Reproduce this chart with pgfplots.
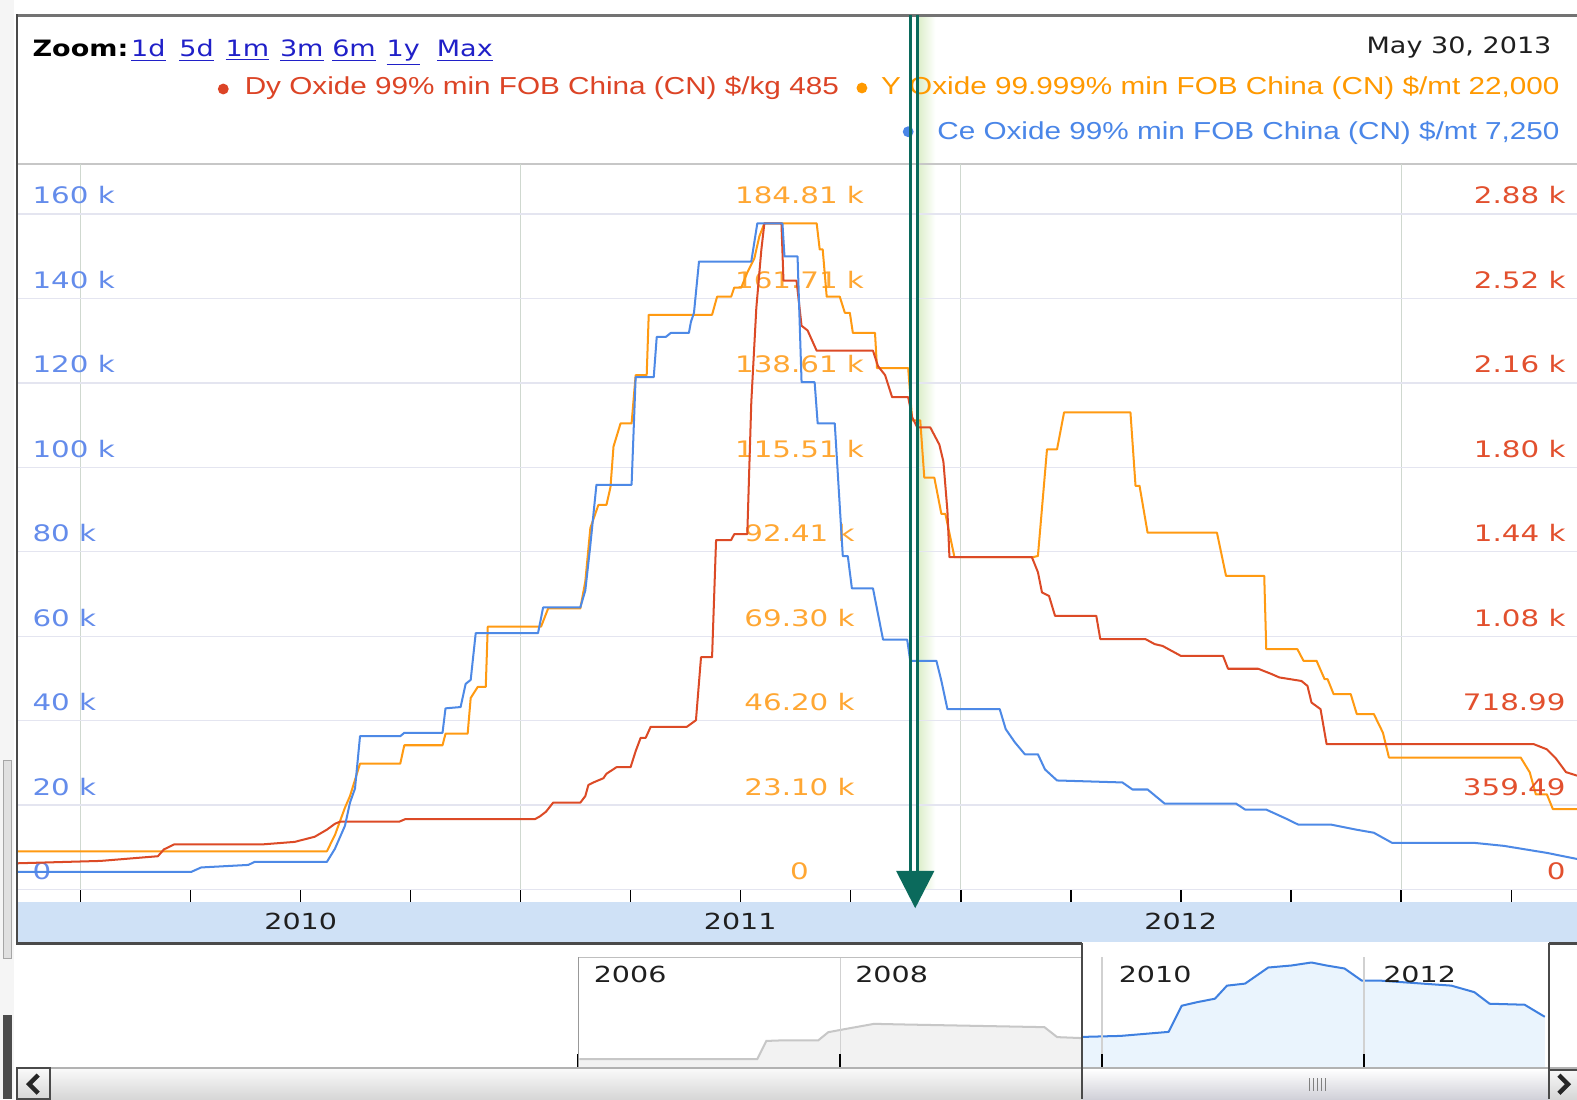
\documentclass[border=0pt]{standalone}
\usepackage{pgfplots}
\pgfplotsset{compat=1.18}
\usepackage{pgfplotstable}
\usepackage{fontspec}
\setmainfont{DejaVu Sans}
\newfontfamily\hdrfont{DejaVu Sans}[FakeStretch=1.2]
\newfontfamily\legfont{Liberation Sans}[FakeStretch=1.21]
\newfontfamily\tickfont{DejaVu Sans}[FakeStretch=1.29]

\definecolor{dyred}{HTML}{DC4A26}
\definecolor{yorange}{HTML}{FF9A12}
\definecolor{ceblue}{HTML}{4D89E6}
\definecolor{dylab}{HTML}{E2502E}
\definecolor{ylab}{HTML}{FFA733}
\definecolor{celab}{HTML}{648CEB}
\definecolor{legred}{HTML}{DC4426}
\definecolor{legorange}{HTML}{FF9900}
\definecolor{legblue}{HTML}{4A86E8}
\definecolor{hgrid}{HTML}{E4E5F0}
\definecolor{vgrid}{HTML}{CFD8CF}
\definecolor{band}{HTML}{CFE1F6}
\definecolor{frame}{HTML}{4A4A4A}
\definecolor{cursor}{HTML}{0B6A5C}
\definecolor{linkblue}{HTML}{2020C8}
\definecolor{navblue}{HTML}{3F80E0}
\definecolor{navfill}{HTML}{EAF4FD}

% Ce Oxide, k$/mt
\pgfplotstableread{
x y
2009.8584 4.17
2010.2513 4.17
2010.2742 5.24
2010.3815 5.84
2010.3953 6.55
2010.5598 6.55
2010.5780 9.65
2010.6009 15.12
2010.6123 20.60
2010.6237 23.94
2010.6351 36.32
2010.7265 36.32
2010.7357 37.13
2010.8225 37.13
2010.8293 42.92
2010.8636 43.23
2010.8750 48.71
2010.8865 49.66
2010.8979 60.74
2011.0395 60.74
2011.0510 66.81
2011.1355 66.81
2011.1469 70.86
2011.1583 81.58
2011.1721 95.87
2011.2520 95.87
2011.2612 121.35
2011.3023 121.35
2011.3091 130.88
2011.3297 130.88
2011.3411 131.83
2011.3822 131.83
2011.3868 134.45
2011.3937 136.60
2011.4051 148.74
2011.5239 148.74
2011.5376 157.79
2011.5947 157.79
2011.5993 149.93
2011.6290 149.93
2011.6381 120.16
2011.6678 120.16
2011.6747 110.40
2011.7135 110.40
2011.7318 78.96
2011.7432 78.96
2011.7524 71.34
2011.8003 71.34
2011.8232 59.19
2011.8780 59.19
2011.8849 54.19
2011.9443 54.19
2011.9557 49.42
2011.9694 42.75
2012.0882 42.75
2012.1019 37.99
2012.1225 34.89
2012.1453 32.04
2012.1750 32.04
2012.1910 28.46
2012.2184 25.84
2012.3669 25.37
2012.3898 23.70
2012.4241 23.70
2012.4629 20.36
2012.6251 20.36
2012.6457 18.94
2012.6937 18.94
2012.7439 16.55
2012.7668 15.36
2012.8422 15.36
2012.8993 14.17
2012.9381 13.46
2012.9792 11.08
2013.1643 11.08
2013.2329 10.36
2013.3311 8.69
2013.3996 7.25
}\ceData

% Y Oxide, k$/mt
\pgfplotstableread{
x y
2009.8584 10.48
2010.5598 10.48
2010.5780 14.88
2010.6009 22.42
2010.6123 25.59
2010.6351 34.45
2010.7265 34.45
2010.7357 39.48
2010.8225 39.48
2010.8293 42.64
2010.8796 42.64
2010.8865 52.41
2010.9025 55.44
2010.9207 55.44
2010.9253 71.94
2011.0464 71.94
2011.0624 76.90
2011.1355 76.90
2011.1469 84.32
2011.1583 98.91
2011.1766 105.23
2011.1949 105.23
2011.2040 110.05
2011.2109 121.19
2011.2269 127.52
2011.2520 127.52
2011.2612 140.72
2011.2863 140.72
2011.2909 157.23
2011.4348 157.23
2011.4462 162.18
2011.4782 162.18
2011.4851 164.66
2011.5011 164.66
2011.5148 168.79
2011.5308 172.64
2011.5422 178.69
2011.5536 182.27
2011.6724 182.27
2011.6793 175.11
2011.6861 175.11
2011.6952 162.18
2011.7249 162.18
2011.7364 157.78
2011.7478 157.78
2011.7546 152.28
2011.8049 152.28
2011.8095 142.65
2011.8803 142.65
2011.8894 128.34
2011.9077 128.34
2011.9169 112.66
2011.9397 112.66
2011.9557 102.76
2011.9648 102.76
2011.9854 90.93
2012.1636 90.93
2012.1750 91.26
2012.1956 120.42
2012.2184 120.42
2012.2344 130.54
2012.3852 130.54
2012.3967 110.46
2012.4058 110.46
2012.4241 97.64
2012.5817 97.64
2012.6023 85.81
2012.6891 85.81
2012.6937 65.75
2012.7645 65.75
2012.7782 62.59
2012.8079 62.59
2012.8262 57.56
2012.8330 57.56
2012.8467 53.46
2012.8856 53.46
2012.8993 48.01
2012.9381 48.01
2012.9587 42.92
2012.9724 36.12
2013.2717 36.12
2013.2923 32.05
2013.3060 26.05
2013.3311 26.05
2013.3448 22.00
2013.3996 22.00
}\yData

% Dy Oxide, $/kg
\pgfplotstableread{
x y
2009.8584 112
2010.0457 122
2010.1759 142
2010.1896 171
2010.2125 192
2010.4112 192
2010.4866 203
2010.5323 225
2010.5598 255
2010.5780 280
2010.5895 289
2010.7242 289
2010.7380 300
2011.0327 300
2011.0441 312
2011.0578 332
2011.0738 370
2011.1355 370
2011.1469 398
2011.1538 445
2011.1652 456
2011.1880 474
2011.1949 493
2011.2177 521
2011.2497 521
2011.2612 589
2011.2726 646
2011.2840 646
2011.2954 693
2011.3777 693
2011.3982 721
2011.4097 989
2011.4348 989
2011.4439 1488
2011.4782 1488
2011.4851 1513
2011.5148 1513
2011.5239 2074
2011.5353 2475
2011.5467 2723
2011.5536 2836
2011.5924 2836
2011.5970 2592
2011.6267 2592
2011.6381 2400
2011.6518 2380
2011.6724 2294
2011.8003 2294
2011.8118 2228
2011.8278 2190
2011.8438 2096
2011.8803 2096
2011.8894 2010
2011.9009 1967
2011.9306 1967
2011.9511 1894
2011.9603 1822
2011.9694 1612
2011.9740 1415
2012.1613 1415
2012.1750 1351
2012.1842 1265
2012.2002 1250
2012.2139 1165
2012.3076 1165
2012.3167 1066
2012.4195 1066
2012.4401 1045
2012.4583 1037
2012.4995 995
2012.5954 995
2012.6069 940
2012.6754 940
2012.7051 918
2012.7234 903
2012.7736 888
2012.7873 867
2012.7965 796
2012.8170 768
2012.8308 619
2013.3014 619
2013.3311 597
2013.3517 558
2013.3745 500
2013.3996 485
}\dyData

% navigator (relative level)
\pgfplotstableread{
x y
2006.008 9
2007.367 9
2007.436 27
2007.541 27.5
2007.832 27.5
2007.909 35.7
2008.045 39
2008.259 44
2008.511 43.3
2009.560 40.7
2009.657 30.8
2009.851 29.8
}\navGray

\pgfplotstableread{
x y
2009.848 31
2010.140 32
2010.508 36
2010.608 62
2010.724 65.5
2010.862 69
2010.954 82
2011.092 84
2011.269 100
2011.445 102
2011.599 105
2011.714 102
2011.852 99
2011.983 87
2012.121 87
2012.667 82
2012.843 75.5
2012.959 64
2013.227 63
2013.381 51
}\navBlue

\pgfplotsset{
  mainax/.style={
    at={(9pt,104.25pt)}, anchor=south west, scale only axis,
    width=775pt, height=360.75pt,
    xmin=2009.8584, xmax=2013.3996, ymin=0,
    axis line style={draw=none},
    major tick length=0pt, minor tick length=0pt,
    tick align=inside, xtick=\empty, clip=true,
  },
  tickf/.style={font={\tickfont\fontsize{11.3}{13}\selectfont}},
}

\begin{document}
\begin{tikzpicture}
\fill[white] (0,0) rectangle (784pt,546.5pt);
\begin{scope}[x=0.5pt,y=-0.5pt,yshift=546.5pt]
  \fill[black!4] (0,0) rectangle (14,1093);
  \fill[black!12] (3,756) rectangle (11,953);
  \draw[black!35, line width=0.5pt] (3,756) rectangle (11,953);
  \fill[black!70] (3,1009) rectangle (12,1093);
  \fill[band] (18,897) rectangle (1568,937);
  \shade[left color={rgb,255:red,222;green,239;blue,205}, right color=white] (914,16) rectangle (930,884);
  \draw[black!22, line width=1pt] (18,163) -- (1568,163);
\end{scope}

% x grid and ticks
\begin{axis}[mainax, ymax=1, ytick=\empty,
  xtick={2010,2011,2012,2013}, xticklabels={},
  minor xtick={2010.25,2010.5,2010.75,2011.25,2011.5,2011.75,2012.25,2012.5,2012.75,2013.25},
  tick align=outside, xtick pos=left,
  major tick length=6pt, minor tick length=6pt,
  xmajorgrids, grid style={vgrid, line width=0.6pt},
  major tick style={black, line width=0.8pt},
  minor tick style={black, line width=0.6pt}]
  \addplot[draw=none] coordinates {(2010,0.5)};
\end{axis}

% Ce scale (left labels, horizontal grid)
\begin{axis}[mainax, ymax=171.85,
  ytick={0,20,40,60,80,100,120,140,160},
  yticklabels={0,20 k,40 k,60 k,80 k,100 k,120 k,140 k,160 k},
  ymajorgrids, grid style={hgrid, line width=0.7pt},
  yticklabel style={tickf, anchor=base west, inner sep=0pt, xshift=7pt, yshift=5pt, text=celab}]
  \addplot[draw=none] coordinates {(2010,10)};
\end{axis}

% Y scale (middle labels)
\begin{axis}[mainax, ymax=198.5,
  ytick={0,23.1016,46.2032,69.3048,92.4064,115.508,138.6096,161.7112,184.8128},
  yticklabels={0,23.10 k,46.20 k,69.30 k,92.41 k,115.51 k,138.61 k,161.71 k,184.81 k},
  yticklabel style={tickf, anchor=base, inner sep=0pt, xshift=388.5pt, yshift=5pt, text=ylab}]
  \addplot[yorange, line width=1pt, line join=round] table[x=x,y=y] {\yData};
\end{axis}

% Dy scale (right labels)
\begin{axis}[mainax, ymax=3088.9,
  ytick={0,359.49,718.99,1078.48,1437.97,1797.46,2156.95,2516.44,2875.93},
  yticklabels={0,359.49,718.99,1.08 k,1.44 k,1.80 k,2.16 k,2.52 k,2.88 k},
  yticklabel pos=right,
  yticklabel style={tickf, anchor=base east, inner sep=0pt, xshift=-5.5pt, yshift=5pt, text=dylab}]
  \addplot[dyred, line width=1pt, line join=round] table[x=x,y=y] {\dyData};
\end{axis}

% Ce line
\begin{axis}[mainax, ymax=171.85, ytick=\empty]
  \addplot[ceblue, line width=1pt, line join=round] table[x=x,y=y] {\ceData};
\end{axis}

% navigator
\begin{axis}[at={(9pt,15.5pt)}, anchor=south west, scale only axis,
  width=775pt, height=55pt, xmin=2001.722, xmax=2013.627, ymin=0, ymax=110,
  axis line style={draw=none}, ytick=\empty,
  xtick={2006,2008,2010,2012}, xticklabels={},
  xmajorgrids, grid style={black!18, line width=0.6pt},
  tick align=inside, xtick pos=left, major tick length=7pt,
  major tick style={black, line width=1pt}, axis on top, clip=false]
  \addplot[fill=black!5, draw=none] table[x=x,y=y] {\navGray} \closedcycle;
  \addplot[black!22, line width=1pt] table[x=x,y=y] {\navGray};
  \addplot[fill=navfill, draw=none] table[x=x,y=y] {\navBlue} \closedcycle;
  \addplot[navblue, line width=1pt, line join=round] table[x=x,y=y] {\navBlue};
\end{axis}

\begin{scope}[x=0.5pt,y=-0.5pt,yshift=546.5pt]
  % frame
  \draw[black!55, line width=1.5pt] (16,15) -- (1568,15);
  \draw[frame, line width=1.2pt] (17,14) -- (17,938);
  \draw[frame, line width=1.3pt] (16,938) -- (1076,938);
  \draw[frame, line width=1.3pt] (1540,938) -- (1568,938);
  % header
  \node[anchor=base west, inner sep=0pt, font=\hdrfont\bfseries\fontsize{11.2}{13}\selectfont] at (32,56.5) {Zoom:};
  \foreach \xx/\lab in {130/1d,178/5d,224/1m,278/3m,330/6m,384/1y,434/Max}
    \node[anchor=base west, inner sep=0pt, text=linkblue, font=\hdrfont\fontsize{11.2}{13}\selectfont] at (\xx,56.5) {\underline{\lab}};
  \node[anchor=base east, inner sep=0pt, text=black!88, font=\hdrfont\fontsize{11.2}{13}\selectfont] at (1543,53.7) {May 30, 2013};
  \fill[legred] (222,88.5) circle[radius=2.7pt];
  \node[anchor=base west, inner sep=0pt, text=legred, font=\legfont\fontsize{12.2}{14}\selectfont] at (243,94) {Dy Oxide 99\% min FOB China (CN) \$/kg 485};
  \fill[legorange] (857,87.5) circle[radius=2.7pt];
  \node[anchor=base east, inner sep=0pt, text=legorange, font=\legfont\fontsize{12.2}{14}\selectfont] at (1551,94) {Y Oxide 99.999\% min FOB China (CN) \$/mt 22,000};
  \fill[legblue] (903,131) circle[radius=2.7pt];
  \node[anchor=base east, inner sep=0pt, text=legblue, font=\legfont\fontsize{12.2}{14}\selectfont] at (1551,139) {Ce Oxide 99\% min FOB China (CN) \$/mt 7,250};
  % year labels in band
  \foreach \xx/\lab in {299/2010,736/2011,1174/2012}
    \node[anchor=base, inner sep=0pt, text=black!88, font=\tickfont\fontsize{11}{13}\selectfont] at (\xx,924) {\lab};
  % navigator decorations
  \draw[black!25, line width=0.8pt] (575,952) -- (1076,952);
  \draw[black!40, line width=0.6pt] (575,952) -- (575,1062);
  \foreach \xx/\lab in {590/2006,850/2008,1112/2010,1375/2012}
    \node[anchor=base west, inner sep=0pt, text=black!88, font=\tickfont\fontsize{11}{13}\selectfont] at (\xx,977) {\lab};
  % scrollbar
  \shade[top color=black!2, bottom color=black!16] (18,1062) rectangle (1568,1093);
  \shade[top color=white, bottom color={rgb,255:red,208;green,208;blue,216}] (1076,1063) rectangle (1540,1093);
  \draw[black!30, line width=0.6pt] (18,1062) -- (1568,1062);
  \foreach \xx in {1302,1306,1310,1314,1318}
    \draw[black!50, line width=0.5pt] (\xx,1072) -- (\xx,1085);
  \draw[frame, line width=1.3pt] (1076,938) -- (1076,1093);
  \draw[frame, line width=1.3pt] (1540,938) -- (1540,1093);
  \draw[frame, line width=1pt] (1540,1064) -- (1568,1064);
  \draw[frame, line width=1pt] (17,1062) rectangle (50,1093);
  \draw[black!85, line width=2.2pt] (38,1069) -- (29,1078) -- (38,1087);
  \draw[black!85, line width=2.2pt] (1550,1069) -- (1559,1078) -- (1550,1087);
  % cursor
  \draw[cursor, line width=1.5pt] (905.5,15) -- (905.5,872);
  \draw[cursor, line width=1.5pt] (912.5,15) -- (912.5,872);
  \fill[cursor] (891,866) -- (929,866) -- (910,903) -- cycle;
\end{scope}
\pgfresetboundingbox
\path (0,0) rectangle (784pt,546.5pt);
\end{tikzpicture}
\end{document}
